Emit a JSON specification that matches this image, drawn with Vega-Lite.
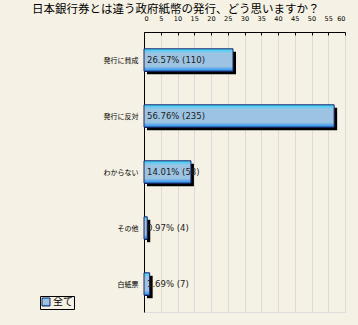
{
  "$schema": "https://vega.github.io/schema/vega-lite/v6.json",
  "autosize": {"type": "none"},
  "width": 201,
  "height": 280,
  "padding": {"left": 144, "top": 32, "right": 13, "bottom": 13},
  "background": "#f5f1e4",
  "title": {
    "text": "日本銀行券とは違う政府紙幣の発行、どう思いますか？",
    "anchor": "start",
    "frame": "group",
    "dx": -112,
    "dy": 0,
    "offset": 0,
    "font": "Noto Sans CJK JP",
    "fontSize": 11.5,
    "fontWeight": "normal",
    "color": "#000000"
  },
  "data": {
    "values": [
      {"answer": "発行に賛成", "pct": 26.57, "count": 110, "label": "26.57% (110)", "series": "全て"},
      {"answer": "発行に反対", "pct": 56.76, "count": 235, "label": "56.76% (235)", "series": "全て"},
      {"answer": "わからない", "pct": 14.01, "count": 58, "label": "14.01% (58)", "series": "全て"},
      {"answer": "その他", "pct": 0.97, "count": 4, "label": "0.97% (4)", "series": "全て"},
      {"answer": "白紙票", "pct": 1.69, "count": 7, "label": "1.69% (7)", "series": "全て"}
    ]
  },
  "encoding": {
    "y": {
      "field": "answer",
      "type": "nominal",
      "sort": null,
      "scale": {"paddingInner": 0.6, "paddingOuter": 0.3},
      "axis": {
        "title": null,
        "tickBand": "extent",
        "tickSize": -3,
        "tickColor": "#000000",
        "domainColor": "#000000",
        "labelFont": "Noto Sans CJK JP",
        "labelFontSize": 7,
        "labelColor": "#000000",
        "labelPadding": 9,
        "grid": false
      }
    },
    "x": {
      "field": "pct",
      "type": "quantitative",
      "scale": {"domain": [0, 60]},
      "axis": {
        "orient": "top",
        "title": null,
        "values": [0, 5, 10, 15, 20, 25, 30, 35, 40, 45, 50, 55, 60],
        "labelOverlap": false,
        "tickSize": -3,
        "tickColor": "#000000",
        "domainColor": "#000000",
        "labelFont": "DejaVu Sans",
        "labelFontSize": 6.5,
        "labelColor": "#000000",
        "labelPadding": 14,
        "grid": true,
        "gridColor": "#dcdcdc"
      }
    }
  },
  "layer": [
    {
      "mark": {"type": "bar", "color": "#000000", "xOffset": 3, "x2Offset": 3, "yOffset": 3, "y2Offset": 3}
    },
    {
      "mark": {
        "type": "bar",
        "strokeWidth": 1,
        "fill": {
          "gradient": "linear",
          "x1": 0, "y1": 0, "x2": 0, "y2": 1,
          "stops": [
            {"offset": 0, "color": "#30d4ff"},
            {"offset": 0.2, "color": "#9cc4e2"},
            {"offset": 0.78, "color": "#9cc4e2"},
            {"offset": 1, "color": "#1e8ef0"}
          ]
        }
      },
      "encoding": {
        "stroke": {
          "field": "series",
          "type": "nominal",
          "scale": {"range": ["#1c2466"]},
          "legend": {
            "title": null,
            "orient": "none",
            "legendX": -104,
            "legendY": 264,
            "strokeColor": "#000000",
            "fillColor": "#f5f1e4",
            "padding": 1,
            "symbolType": "square",
            "symbolSize": 64,
            "symbolStrokeWidth": 1,
            "labelFont": "Noto Sans CJK JP",
            "labelFontSize": 10,
            "labelColor": "#000000",
            "labelOffset": 2,
            "encode": {"symbols": {"update": {"fill": {"value": "#48b4f0"}, "stroke": {"value": "#1c2466"}}}}
          }
        }
      }
    },
    {
      "mark": {"type": "text", "align": "left", "baseline": "middle", "dx": 3, "font": "DejaVu Sans", "fontSize": 8.5, "color": "#202020"},
      "encoding": {
        "x": {"datum": 0, "type": "quantitative"},
        "text": {"field": "label"}
      }
    }
  ]
}
